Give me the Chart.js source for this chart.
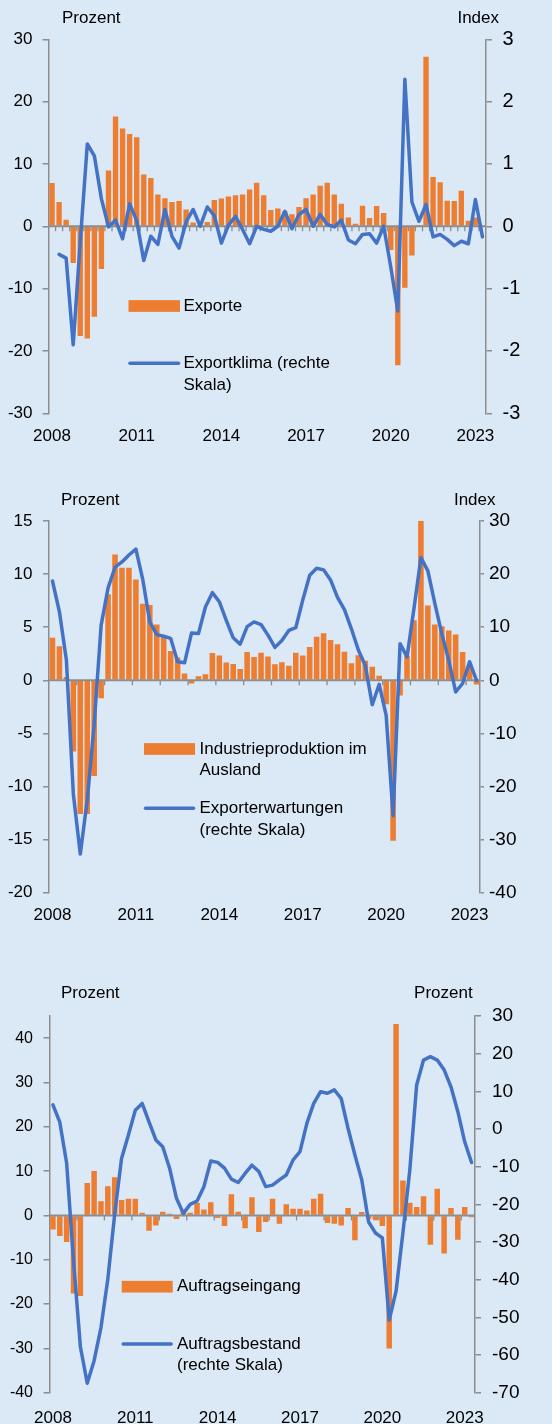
<!DOCTYPE html>
<html><head><meta charset="utf-8">
<script src="https://cdn.jsdelivr.net/npm/chart.js@4.4.1/dist/chart.umd.min.js"></script>
<style>
html,body{margin:0;padding:0;background:#dbe8f5;width:552px;height:1424px;overflow:hidden;}
canvas{position:absolute;left:0;}
</style></head><body>
<canvas id="c1" width="552" height="470" style="top:0px;width:552px;height:470px"></canvas>
<canvas id="c2" width="552" height="480" style="top:470px;width:552px;height:480px"></canvas>
<canvas id="c3" width="552" height="474" style="top:950px;width:552px;height:474px"></canvas>
<script>
// ---------- DATA ----------
const categories = [
 "2008Q1","2008Q2","2008Q3","2008Q4","2009Q1","2009Q2","2009Q3","2009Q4",
 "2010Q1","2010Q2","2010Q3","2010Q4","2011Q1","2011Q2","2011Q3","2011Q4",
 "2012Q1","2012Q2","2012Q3","2012Q4","2013Q1","2013Q2","2013Q3","2013Q4",
 "2014Q1","2014Q2","2014Q3","2014Q4","2015Q1","2015Q2","2015Q3","2015Q4",
 "2016Q1","2016Q2","2016Q3","2016Q4","2017Q1","2017Q2","2017Q3","2017Q4",
 "2018Q1","2018Q2","2018Q3","2018Q4","2019Q1","2019Q2","2019Q3","2019Q4",
 "2020Q1","2020Q2","2020Q3","2020Q4","2021Q1","2021Q2","2021Q3","2021Q4",
 "2022Q1","2022Q2","2022Q3","2022Q4","2023Q1","2023Q2"];
const yearTickLabels = ["2008","2011","2014","2017","2020","2023"];

// Chart 1
const exporte = [6.95,3.9,1.05,-5.9,-17.6,-18.0,-14.5,-6.85,8.95,17.6,
 15.7,14.8,14.3,8.3,7.75,5.1,4.5,3.9,4.05,2.7,
 0.6,0.0,0.7,4.2,4.45,4.8,5.0,5.1,5.9,7.0,
 5.0,2.6,2.85,2.4,1.95,3.1,4.5,5.1,6.5,7.0,
 5.1,3.6,1.4,0.4,3.3,1.35,3.25,2.15,-3.8,-22.3,
 -9.85,-4.7,0.2,27.2,7.9,7.05,4.1,4.05,5.7,0.9,
 1.4,0.1];
const exportklima = [null,-0.45,-0.51,-1.90,-0.25,1.32,1.13,0.44,-0.01,0.1,
 -0.2,0.36,0.09,-0.55,-0.16,-0.29,0.27,-0.16,-0.35,0.07,
 0.27,0.0,0.31,0.17,-0.27,0.02,0.16,-0.05,-0.28,0.0,
 -0.05,-0.08,0.0,0.24,-0.04,0.19,0.27,0.0,0.19,0.03,
 -0.01,0.1,-0.22,-0.28,-0.13,-0.12,-0.27,0.0,-0.65,-1.36,
 2.36,0.39,0.08,0.35,-0.17,-0.13,-0.21,-0.31,-0.24,-0.28,
 0.43,-0.17];
const leftTicks1 = [-30,30,10];   // min, max, step
const rightTicks1 = [-3,3,1];

// Chart 2
const industrieproduktion = [4.0,3.2,0.3,-6.7,-12.6,-12.6,-9.0,-1.7,8.1,11.85,
 10.6,10.6,9.5,7.2,7.1,5.25,4.2,2.77,2.14,0.63,
 -0.3,0.38,0.57,2.58,2.33,1.67,1.54,1.07,2.67,2.2,
 2.6,2.25,1.5,1.7,1.38,2.6,2.33,3.14,4.1,4.43,
 3.8,3.4,2.7,1.6,2.36,1.84,1.28,0.44,-2.26,-15.1,
 -1.43,2.3,5.66,15.0,7.04,5.25,5.1,4.7,4.32,2.67,
 1.4,-0.4];
const exporterwartungen = [18.7,12.9,3.8,-21.4,-32.7,-22.6,-8.2,10.4,17.4,21.3,
 22.3,23.6,24.7,18.9,11.0,8.6,8.3,7.9,3.5,3.3,
 8.9,8.8,13.8,16.5,14.8,11.3,8.0,6.8,10.1,11.0,
 10.5,8.5,6.2,7.5,9.4,9.9,15.1,19.8,21.1,20.8,
 18.9,15.6,13.3,9.7,5.7,2.8,-4.6,-0.75,-6.6,-25.5,
 6.9,4.4,13.5,23.1,20.6,14.5,8.8,3.8,-2.2,-0.6,
 3.5,0.0];
const leftTicks2 = [-20,15,5];
const rightTicks2 = [-40,30,10];

// Chart 3
const auftragseingang = [-3.15,-4.65,-6.0,-17.6,-18.2,7.3,10.0,3.2,6.6,8.6,
 3.5,3.75,3.75,0.6,-3.45,-2.3,0.83,0.4,-0.8,1.3,
 0.6,2.8,1.35,3.0,-0.6,-2.4,4.8,0.83,-2.9,4.1,
 -3.75,-1.5,3.75,-1.9,2.5,1.5,1.5,1.1,3.75,4.9,
 -1.7,-1.9,-2.25,1.7,-5.6,0.75,-0.75,-1.1,-2.4,-30.0,
 43.2,7.9,2.85,1.9,4.3,-6.6,6.0,-8.6,1.7,-5.5,
 1.9,-0.4];
const auftragsbestand = [6.4,1.8,-9.1,-35.0,-57.8,-67.5,-61.5,-52.7,-39.8,-22.6,
 -7.8,-1.6,5.0,6.8,1.9,-2.9,-4.7,-10.4,-18.4,-22.4,
 -20.0,-19.1,-15.3,-8.5,-8.85,-10.4,-13.3,-14.2,-11.8,-9.6,
 -11.3,-15.3,-14.9,-13.5,-12.2,-8.2,-6.0,1.5,6.8,9.9,
 9.5,10.4,8.1,0.2,-6.9,-13.5,-24.7,-27.6,-28.9,-50.7,
 -43.0,-27.5,-10.9,11.7,18.3,19.2,18.3,15.7,11.2,4.6,
 -3.4,-8.9];
const leftTicks3 = [-40,45,10];
const leftTickLabelMax3 = 40;
const rightTicks3 = [-70,30,10];

// ---------- STYLE ----------
const FONT = "'Liberation Sans', Arial, Helvetica, sans-serif";
const ORANGE = '#ed7d31';
const BLUE = '#4472c4';
const AXIS = '#8d8d8d';
const TEXT = '#000000';
const PAGE_W = 552;

const zeroLinePlugin = {
  id: 'zeroLine',
  afterDatasetDraw(chart, args, o) {
    if (args.index !== 0) return;
    const {ctx, chartArea: a, scales} = chart;
    const y = scales.y.getPixelForValue(0);
    ctx.save();
    ctx.strokeStyle = AXIS;
    ctx.lineWidth = 2;
    ctx.beginPath(); ctx.moveTo(a.left, y); ctx.lineTo(a.right, y); ctx.stroke();
    const n = chart.data.labels.length;
    const step = (a.right - a.left) / n;
    ctx.lineWidth = 1.3;
    ctx.beginPath();
    for (let i = o.every; i < n; i += o.every) {
      const x = a.left + i * step;
      ctx.moveTo(x, y); ctx.lineTo(x, y + 5);
    }
    ctx.stroke();
    ctx.restore();
  }
};

const annotPlugin = {
  id: 'annot',
  afterDraw(chart, args, o) {
    const ctx = chart.ctx;
    ctx.save();
    ctx.font = o.fontSize + 'px ' + FONT;
    ctx.textBaseline = 'middle';
    ctx.fillStyle = TEXT;
    for (const u of o.units) {
      ctx.textAlign = u.align;
      ctx.fillText(u.text, u.x, u.y - o.top);
    }
    for (const it of o.legend) {
      const yy = it.y - o.top;
      if (it.kind === 'bar') {
        ctx.fillStyle = it.color;
        ctx.fillRect(it.x, yy - it.h / 2, it.w, it.h);
      } else {
        ctx.strokeStyle = it.color;
        ctx.lineWidth = it.h;
        ctx.lineCap = 'round';
        ctx.beginPath(); ctx.moveTo(it.x, yy); ctx.lineTo(it.x + it.w, yy); ctx.stroke();
      }
      ctx.fillStyle = TEXT;
      ctx.textAlign = 'left';
      it.lines.forEach((t, k) => ctx.fillText(t, it.tx, yy + k * it.lh));
    }
    ctx.restore();
  }
};

function build(id, s) {
  const canvasH = document.getElementById(id).height;
  const a = s.area;
  const yTicks = {
    stepSize: s.left[2], color: TEXT, padding: s.leftPad,
    font: {family: FONT, size: s.leftFont}
  };
  const cfg = {
    type: 'bar',
    data: {
      labels: categories,
      datasets: [
        {type: 'bar', label: s.names[0], data: s.bars, backgroundColor: ORANGE,
         borderWidth: 0, barPercentage: s.barPct, categoryPercentage: 1.0,
         yAxisID: 'y', order: 1},
        {type: 'line', label: s.names[1], data: s.line, borderColor: BLUE,
         borderWidth: 3.5, pointRadius: 0, tension: 0, fill: false,
         borderJoinStyle: 'round', borderCapStyle: 'round',
         yAxisID: 'y1', order: 0, spanGaps: false}
      ]
    },
    options: {
      responsive: false, animation: false, devicePixelRatio: 1, events: [],
      layout: {padding: {top: a.top - s.top, left: 0, right: 0, bottom: 0}},
      plugins: {
        legend: {display: false}, tooltip: {enabled: false},
        zeroLine: {every: s.tickEvery},
        annot: {top: s.top, fontSize: 17, units: s.units, legend: s.legend}
      },
      scales: {
        x: {
          type: 'category', offset: true,
          grid: {display: false, drawTicks: false},
          border: {display: false},
          ticks: {
            autoSkip: false, maxRotation: 0, minRotation: 0, padding: s.xPad,
            color: TEXT, font: {family: FONT, size: 17},
            callback: function (v, i) {
              const c = categories[i];
              const yr = c.slice(0, 4);
              return (c.endsWith('Q1') && yearTickLabels.includes(yr)) ? yr : '';
            }
          },
          afterFit: sc => { sc.height = canvasH - (a.bottom - s.top); }
        },
        y: {
          position: 'left', min: s.left[0], max: s.left[1],
          ticks: yTicks,
          grid: {drawOnChartArea: false, drawTicks: true, tickLength: 6, color: AXIS, lineWidth: 1.5},
          border: {display: true, color: AXIS, width: 1.5},
          afterBuildTicks: sc => {
            if (s.leftLabelMax !== undefined) sc.ticks = sc.ticks.filter(t => t.value <= s.leftLabelMax);
          },
          afterFit: sc => { sc.width = a.left; }
        },
        y1: {
          position: 'right', min: s.right[0], max: s.right[1],
          ticks: {stepSize: s.right[2], color: TEXT, padding: s.rightPad,
                  font: {family: FONT, size: s.rightFont}},
          grid: {drawOnChartArea: false, drawTicks: true, tickLength: s.rightTickLen, color: AXIS, lineWidth: 1.5},
          border: {display: true, color: AXIS, width: 1.5},
          afterFit: sc => { sc.width = PAGE_W - a.right; }
        }
      }
    },
    plugins: [zeroLinePlugin, annotPlugin]
  };
  return new Chart(document.getElementById(id), cfg);
}

build('c1', {
  top: 0, area: {left: 48.5, right: 486, top: 39.3, bottom: 413.3},
  bars: exporte, line: exportklima, names: ["Exporte", "Exportklima (rechte Skala)"],
  left: leftTicks1, right: rightTicks1,
  leftFont: 17, leftPad: 10, rightFont: 20, rightPad: 10.5, rightTickLen: 6,
  barPct: 0.76, tickEvery: 1, xPad: 12.8,
  units: [{text: 'Prozent', x: 62, y: 18.5, align: 'left'},
          {text: 'Index', x: 499, y: 18.5, align: 'right'}],
  legend: [
    {kind: 'bar', color: ORANGE, x: 128.5, y: 306, w: 51.5, h: 11.7, tx: 183.5, lh: 22.4, lines: ["Exporte"]},
    {kind: 'line', color: BLUE, x: 130, y: 363.3, w: 48.5, h: 3.5, tx: 183.5, lh: 22.4, lines: ["Exportklima (rechte", "Skala)"]}
  ]
});

build('c2', {
  top: 470, area: {left: 49, right: 480, top: 521, bottom: 892.7},
  bars: industrieproduktion, line: exporterwartungen, names: ["Industrieproduktion im Ausland", "Exporterwartungen (rechte Skala)"],
  left: leftTicks2, right: rightTicks2,
  leftFont: 17, leftPad: 10.5, rightFont: 19, rightPad: 5, rightTickLen: 4,
  barPct: 0.8, tickEvery: 4, xPad: 12.6,
  units: [{text: 'Prozent', x: 61, y: 500.7, align: 'left'},
          {text: 'Index', x: 495.5, y: 500.7, align: 'right'}],
  legend: [
    {kind: 'bar', color: ORANGE, x: 144, y: 749, w: 51, h: 11.7, tx: 199.5, lh: 21.4, lines: ["Industrieproduktion im", "Ausland"]},
    {kind: 'line', color: BLUE, x: 145.5, y: 808.3, w: 48, h: 3.5, tx: 199.5, lh: 21.7, lines: ["Exporterwartungen", "(rechte Skala)"]}
  ]
});

build('c3', {
  top: 950, area: {left: 49.5, right: 475, top: 1016, bottom: 1392.7},
  bars: auftragseingang, line: auftragsbestand, names: ["Auftragseingang", "Auftragsbestand (rechte Skala)"],
  left: leftTicks3, leftLabelMax: leftTickLabelMax3, right: rightTicks3,
  leftFont: 16, leftPad: 10.5, rightFont: 19, rightPad: 11, rightTickLen: 6,
  barPct: 0.8, tickEvery: 4, xPad: 15,
  units: [{text: 'Prozent', x: 61, y: 993.3, align: 'left'},
          {text: 'Prozent', x: 472.7, y: 993.3, align: 'right'}],
  legend: [
    {kind: 'bar', color: ORANGE, x: 121.7, y: 1286.7, w: 51, h: 11.7, tx: 177, lh: 21.7, lines: ["Auftragseingang"]},
    {kind: 'line', color: BLUE, x: 123.2, y: 1344, w: 48, h: 3.5, tx: 177, lh: 21.7, lines: ["Auftragsbestand", "(rechte Skala)"]}
  ]
});
</script>
</body></html>
